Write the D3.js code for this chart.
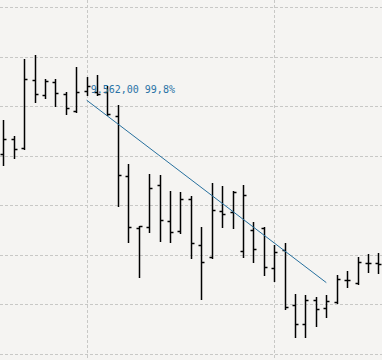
<!DOCTYPE html>
<html>
<head>
<meta charset="utf-8">
<script src="https://cdn.jsdelivr.net/npm/d3@7"></script>
<style>
  html, body { margin: 0; padding: 0; background: #f5f4f2; }
  svg { display: block; }
</style>
</head>
<body>
<div id="chart"></div>
<script>
// OHLC bars (price units)
const opens  = [9453, 9484, 9466, 9603, 9572, 9599, 9575, 9540, 9581, 9579, 9579, 9530, 9409, 9304, 9306, 9391, 9318, 9298, 9363,
                9270, 9246, 9339, 9337, 9258, 9300, 9304, 9224, 9260, 9149, 9111, 9159, 9143, 9155, 9199, 9193, 9234, 9234];
const highs  = [9522, 9490, 9645, 9653, 9605, 9605, 9579, 9629, 9609, 9613, 9591, 9552, 9433, 9308, 9413, 9411, 9379, 9377, 9369,
                9306, 9395, 9389, 9379, 9391, 9316, 9306, 9270, 9274, 9171, 9169, 9165, 9169, 9209, 9217, 9246, 9252, 9254];
const lows   = [9431, 9445, 9464, 9558, 9566, 9550, 9534, 9538, 9572, 9572, 9532, 9349, 9276, 9205, 9296, 9278, 9276, 9294, 9244,
                9161, 9244, 9306, 9304, 9246, 9236, 9209, 9197, 9141, 9084, 9084, 9107, 9125, 9153, 9185, 9191, 9215, 9213];
const closes = [9484, 9464, 9605, 9575, 9601, 9577, 9546, 9579, 9591, 9575, 9534, 9411, 9306, 9308, 9385, 9320, 9296, 9363, 9274,
                9236, 9341, 9332, 9377, 9371, 9262, 9226, 9256, 9145, 9111, 9159, 9141, 9157, 9201, 9199, 9236, 9234, 9232];

// horizontal grid prices, vertical grid bar indices
const gridPrices = [9050, 9150, 9250, 9350, 9450, 9550, 9650, 9750];
const gridBars = [8, 26];

// trend line from bar 8 to bar 31
const trendBars = [8, 31];
const trendPrices = [9562, 9194];
const trendLabel = "9.562,00 99,8%";

const width = 382, height = 360;

const bars = opens.map((o, i) => ({ i: i, o: o, h: highs[i], l: lows[i], c: closes[i] }));

const x = d3.scaleLinear().domain([0, 36]).range([3.3, 378.4]);
const y = d3.scaleLinear().domain([9050, 9750]).range([354, 7]);

const px = v => Math.round(x(v)) + 0.5;
const py = v => Math.round(y(v)) + 0.5;

const svg = d3.select("#chart").append("svg")
    .attr("width", width)
    .attr("height", height);

svg.append("rect")
    .attr("width", width)
    .attr("height", height)
    .attr("fill", "#f5f4f2");

// grid
const grid = svg.append("g")
    .attr("stroke", "#c8c8c6")
    .attr("stroke-width", 1)
    .attr("stroke-dasharray", "3,2")
    .attr("shape-rendering", "crispEdges");

grid.selectAll(".hgrid")
    .data(gridPrices)
    .enter().append("line")
    .attr("class", "hgrid")
    .attr("x1", 0)
    .attr("x2", width)
    .attr("y1", d => py(d))
    .attr("y2", d => py(d));

grid.selectAll(".vgrid")
    .data(gridBars)
    .enter().append("line")
    .attr("class", "vgrid")
    .attr("x1", d => px(d))
    .attr("x2", d => px(d))
    .attr("y1", 0)
    .attr("y2", height);

// OHLC bars
const tick = 3;
const barG = svg.append("g")
    .attr("stroke", "#000")
    .attr("stroke-width", 1.5);

const bar = barG.selectAll(".bar")
    .data(bars)
    .enter().append("g")
    .attr("class", "bar");

bar.append("line")
    .attr("x1", d => px(d.i))
    .attr("x2", d => px(d.i))
    .attr("y1", d => py(d.h) - 0.5)
    .attr("y2", d => py(d.l) + 0.5);

bar.append("line")
    .attr("x1", d => px(d.i) - tick)
    .attr("x2", d => px(d.i))
    .attr("y1", d => py(d.o))
    .attr("y2", d => py(d.o));

bar.append("line")
    .attr("x1", d => px(d.i))
    .attr("x2", d => px(d.i) + tick)
    .attr("y1", d => py(d.c))
    .attr("y2", d => py(d.c));

// trend line
svg.append("line")
    .attr("x1", x(trendBars[0]))
    .attr("y1", y(trendPrices[0]))
    .attr("x2", x(trendBars[1]))
    .attr("y2", y(trendPrices[1]))
    .attr("stroke", "#27709e")
    .attr("stroke-width", 1);

svg.append("text")
    .attr("x", x(trendBars[0]) + 4)
    .attr("y", y(trendPrices[0]) - 7)
    .attr("fill", "#2a73a6")
    .attr("font-family", "DejaVu Sans Mono, monospace")
    .attr("font-size", "10px")
    .text(trendLabel);
</script>
</body>
</html>
